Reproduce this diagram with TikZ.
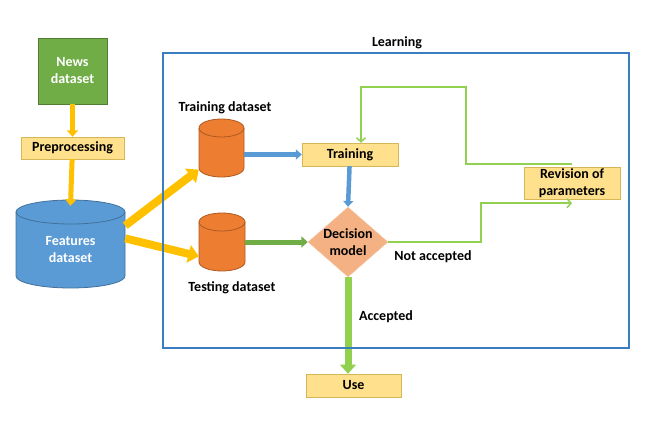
\documentclass[tikz,border=0pt]{standalone}
\usepackage{fontspec}
\setmainfont{Carlito}
\usetikzlibrary{shapes.geometric, arrows.meta}
\definecolor{newsgreen}{HTML}{70AD47}
\definecolor{newsline}{HTML}{507E32}
\definecolor{boxfill}{HTML}{FFE08C}
\definecolor{boxline}{HTML}{D6B656}
\definecolor{featblue}{HTML}{5B9BD5}
\definecolor{featline}{HTML}{41719C}
\definecolor{dbfill}{HTML}{ED7D31}
\definecolor{dbline}{HTML}{AE5A21}
\definecolor{decfill}{HTML}{F4B183}
\definecolor{decline}{HTML}{F8CBAD}
\definecolor{flowyellow}{HTML}{FFC000}
\definecolor{flowgreen}{HTML}{92D050}
\definecolor{framblue}{HTML}{3A7EC2}

% drum: name, x, y, half width, half height, end radius, fill, line, text
\newcommand{\drum}[9]{%
  \filldraw[fill=#7, draw=#8, line width=0.8pt] (#2-#4,#3-#5+#6) -- (#2-#4,#3+#5-#6)
    arc[start angle=180, end angle=360, x radius=#4pt, y radius=#6pt] -- (#2+#4,#3-#5+#6)
    arc[start angle=0, end angle=180, x radius=#4pt, y radius=#6pt] -- cycle;
  \draw[draw=#8, line width=0.8pt] (#2-#4,#3-#5+#6) arc[start angle=180, end angle=360, x radius=#4pt, y radius=#6pt];
  \node[minimum width=2*#4pt, minimum height=2*#5pt-#6pt, inner sep=0pt, text=white, align=center] (#1) at (#2,#3+#6/2) {#9};}

\begin{document}
\begin{tikzpicture}[x=1pt, y=-1pt, font=\bfseries\fontsize{14}{17}\selectfont,
    stepbox/.style={draw=boxline, fill=boxfill, minimum width=#1, minimum height=23pt, inner sep=0pt, align=center},
    stepbox/.default=96pt,
    blockarrow/.style={line width=#1, -{Triangle[length=1.3*#1, width=2.2*#1]}},
    loopline/.style={flowgreen, line width=1.5pt, -{Straight Barb[length=4pt, width=9pt]}}]
    \useasboundingbox (0,0) rectangle (670,431);

    % Nodes left of the frame
    \node[draw=newsline, fill=newsgreen, text=white, minimum width=69pt, minimum height=66pt, align=center] (news) at (72.5,71) {News\\dataset};
    \node[stepbox=103pt, minimum height=22pt] (prep) at (72.5,148) {Preprocessing};
    \drum{feat}{70.5}{244}{54.5}{44}{12}{featblue}{featline}{Features\\dataset}

    % Nodes in the frame
    \drum{traindb}{221.5}{148}{22.5}{29}{9}{dbfill}{dbline}{}
    \drum{testdb}{222}{242}{23}{29}{9}{dbfill}{dbline}{}
    \node (trainlbl) at (225,108) {Training dataset};
    \node (testlbl) at (232,288) {Testing dataset};
    \node[stepbox] (train) at (350,154.5) {Training};
    \node[diamond, draw=decline, fill=decfill, minimum width=80pt, minimum height=70pt, aspect=1.15, inner sep=-2pt, align=center] (dec) at (348,242) {Decision\\model};
    \node[stepbox, minimum height=32pt] (rev) at (572,183) {Revision of\\parameters};
    \node[stepbox=95pt] (use) at (353.5,385.5) {Use};
    \node (notacc) at (433,257) {Not accepted};
    \node (acc) at (386,317) {Accepted};

    % Arrows
    \draw[blockarrow=5pt, flowyellow] (news) -- (prep);
    \draw[blockarrow=5pt, flowyellow] (prep) -- ([yshift=6pt]feat.north);
    \draw[blockarrow=8pt, flowyellow] (feat.24) -- (traindb.217);
    \draw[blockarrow=8pt, flowyellow] (feat.12) -- (testdb.203);
    \draw[blockarrow=4.5pt, featblue] (traindb.east |- train.west) -- (train.west);
    \draw[blockarrow=5pt, newsgreen] (testdb.east |- dec.west) -- (dec.west);
    \draw[blockarrow=4.5pt, featblue] (train) -- (dec.north);
    \draw[blockarrow=7pt, flowgreen] (dec.south) -- (dec.south |- use.north);
    \draw[loopline] (dec.east) -- ++(93,0) |- ([yshift=-4pt]rev.south);
    \draw[loopline] ([yshift=3pt]rev.north) -| (466,87) -| ([xshift=11pt]train.north);

    % Learning frame
    \draw[framblue, line width=1.5pt] (163,53) rectangle (629,348);
    \node (learn) at (397,43) {Learning};
\end{tikzpicture}
\end{document}
